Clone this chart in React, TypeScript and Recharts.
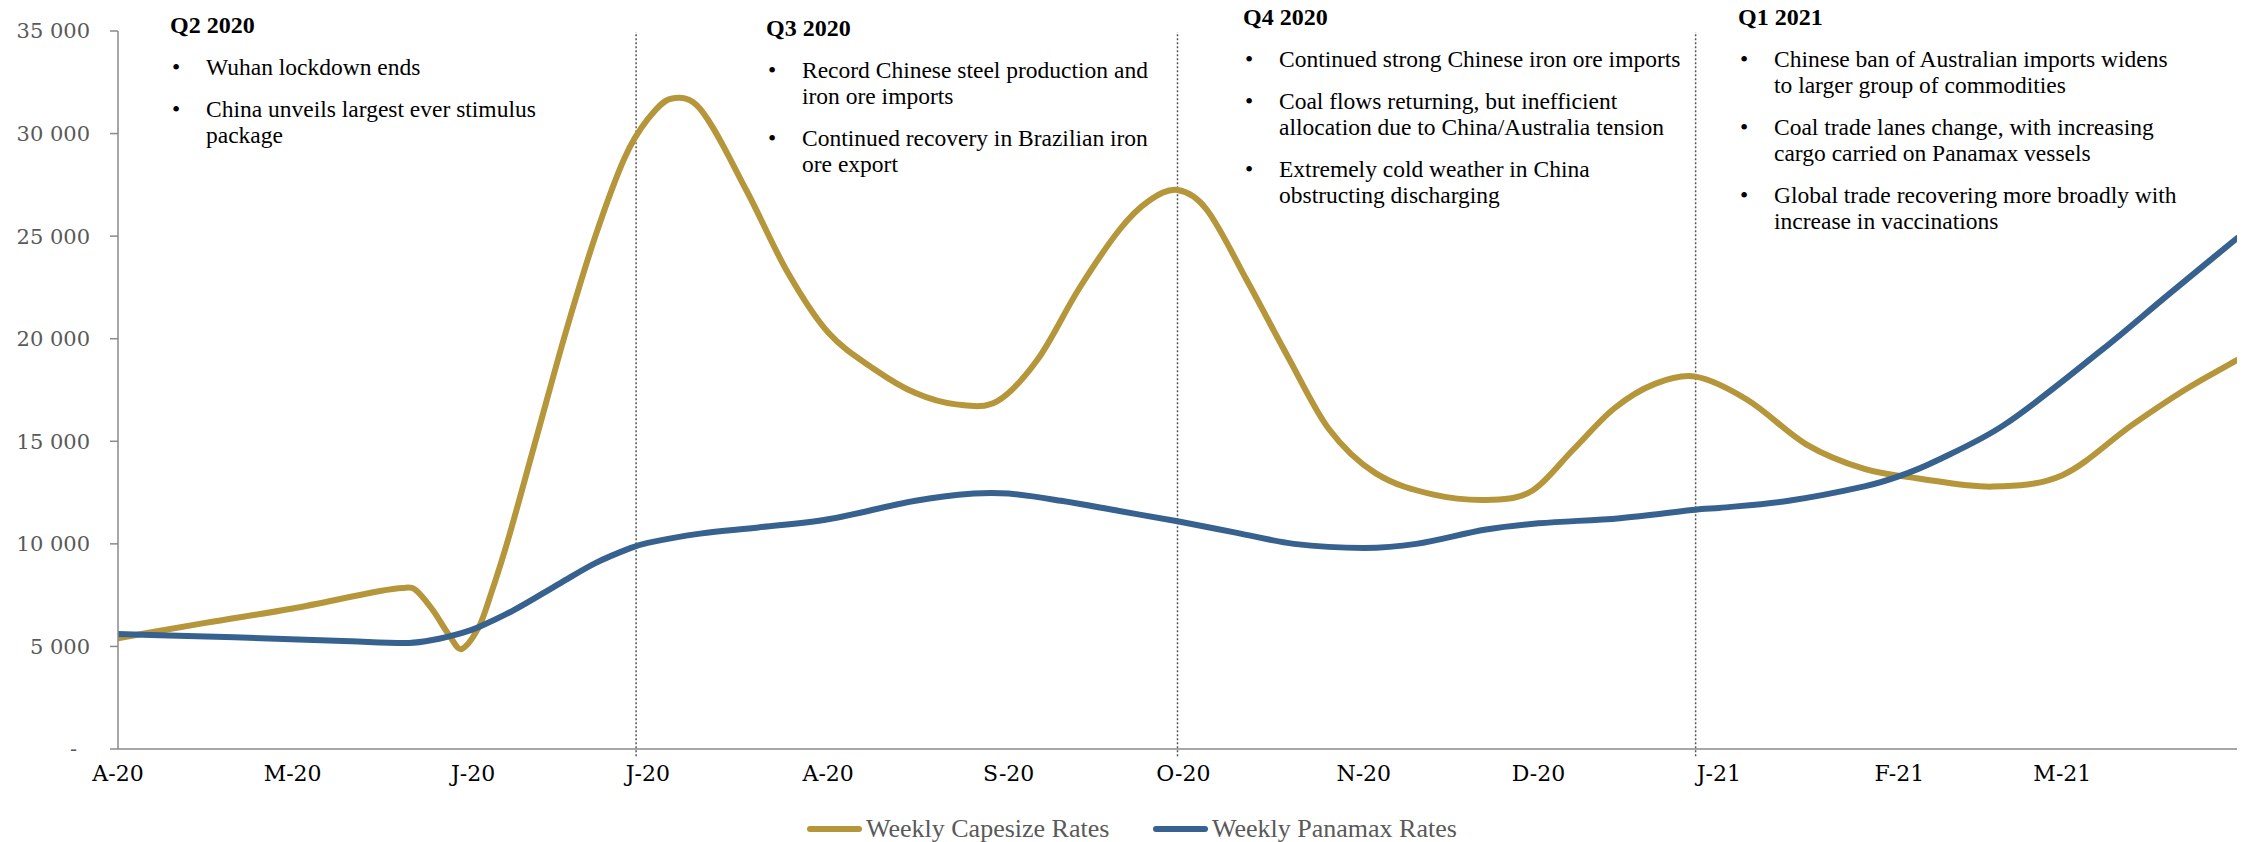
import React from 'react';
import { LineChart, Line, XAxis, YAxis, ReferenceLine } from 'recharts';

// Weekly time charter rates, USD/day
const capeDates = [
  '2020-04-01', '2020-04-16', '2020-05-01', '2020-05-16', '2020-05-20', '2020-05-22', '2020-05-25',
  '2020-05-28', '2020-05-30', '2020-06-02', '2020-06-04', '2020-06-07', '2020-06-12', '2020-06-17',
  '2020-06-22', '2020-06-27', '2020-07-01', '2020-07-05', '2020-07-10', '2020-07-18', '2020-07-25',
  '2020-08-01', '2020-08-09', '2020-08-16', '2020-08-23', '2020-08-30', '2020-09-06', '2020-09-13',
  '2020-09-20', '2020-09-25', '2020-09-30', '2020-10-05', '2020-10-12', '2020-10-19', '2020-10-26',
  '2020-11-03', '2020-11-13', '2020-11-23', '2020-11-30', '2020-12-07', '2020-12-14', '2020-12-21',
  '2020-12-28', '2021-01-06', '2021-01-16', '2021-01-26', '2021-02-04', '2021-02-17', '2021-03-01',
  '2021-03-13', '2021-03-22', '2021-03-31',
];
const capeRates = [
  5400, 6150, 6850, 7700, 7850, 7780, 6800,
  5500, 4870, 5950, 7500, 10200, 15300, 20400,
  25000, 28800, 30700, 31700, 31200, 27200, 23250,
  20300, 18500, 17350, 16800, 16950, 19000, 22400,
  25300, 26700, 27250, 26300, 22800, 19100, 15600,
  13450, 12400, 12150, 12600, 14600, 16600, 17800,
  18150, 17000, 14850, 13650, 13200, 12790, 13350,
  15800, 17500, 18960,
];

const panaDates = [
  '2020-04-01', '2020-04-21', '2020-05-11', '2020-05-21', '2020-05-25', '2020-05-30', '2020-06-02',
  '2020-06-08', '2020-06-16', '2020-06-22', '2020-06-28', '2020-07-01', '2020-07-10', '2020-07-20',
  '2020-08-01', '2020-08-16', '2020-08-26', '2020-09-01', '2020-09-10', '2020-09-20', '2020-09-30',
  '2020-10-10', '2020-10-20', '2020-11-01', '2020-11-10', '2020-11-22', '2020-12-01', '2020-12-15',
  '2020-12-29', '2021-01-01', '2021-01-13', '2021-01-26', '2021-02-01', '2021-02-07', '2021-02-19',
  '2021-03-08', '2021-03-19', '2021-03-31',
];
const panaRates = [
  5600, 5450, 5250, 5170, 5310, 5650, 5950,
  6770, 8090, 9060, 9790, 10050, 10500, 10800,
  11200, 12100, 12450, 12450, 12100, 11600, 11100,
  10550, 10000, 9800, 10000, 10700, 11000, 11250,
  11700, 11750, 12100, 12800, 13300, 14000, 15800,
  19500, 22100, 24900,
];

const seriesNames = ['Weekly Capesize Rates', 'Weekly Panamax Rates'];

const monthTicks = [
  '2020-04-01', '2020-05-01', '2020-06-01', '2020-07-01', '2020-08-01', '2020-09-01',
  '2020-10-01', '2020-11-01', '2020-12-01', '2021-01-01', '2021-02-01', '2021-03-01',
];
const monthLabels = ['A-20', 'M-20', 'J-20', 'J-20', 'A-20', 'S-20', 'O-20', 'N-20', 'D-20', 'J-21', 'F-21', 'M-21'];

const quarterBreaks = ['2020-06-29', '2020-09-30', '2020-12-28'];
const rateTicks = [0, 5000, 10000, 15000, 20000, 25000, 30000, 35000];

const notes = [
  {
    title: 'Q2 2020',
    bullets: [['Wuhan lockdown ends'], ['China unveils largest ever stimulus', 'package']],
  },
  {
    title: 'Q3 2020',
    bullets: [
      ['Record Chinese steel production and', 'iron ore imports'],
      ['Continued recovery in Brazilian iron', 'ore export'],
    ],
  },
  {
    title: 'Q4 2020',
    bullets: [
      ['Continued strong Chinese iron ore imports'],
      ['Coal flows returning, but inefficient', 'allocation due to China/Australia tension'],
      ['Extremely cold weather in China', 'obstructing discharging'],
    ],
  },
  {
    title: 'Q1 2021',
    bullets: [
      ['Chinese ban of Australian imports widens', 'to larger group of commodities'],
      ['Coal trade lanes change, with increasing', 'cargo carried on Panamax vessels'],
      ['Global trade recovering more broadly with', 'increase in vaccinations'],
    ],
  },
];

const W = 2242;
const H = 842;
const GOLD = '#B6963A';
const BLUE = '#37628F';
const AXIS = '#8a8a8a';
const notePos = [
  { left: 170, top: 12 },
  { left: 766, top: 15 },
  { left: 1243, top: 4 },
  { left: 1738, top: 4 },
];

const toTime = (d: string) => Date.parse(d + 'T00:00:00Z');

const capeData = capeDates.map((d, i) => ({ t: toTime(d), rate: capeRates[i] }));
const panaData = panaDates.map((d, i) => ({ t: toTime(d), rate: panaRates[i] }));
const tickTimes = monthTicks.map(toTime);
const domainX = [toTime('2020-04-01'), toTime('2021-03-31')];

// Smoothed line: cubic Hermite through every point, slopes from the neighbours
// (no monotone clamping, so peaks come out round like a spreadsheet "smoothed line")
const smoothCurve = (context: any) => {
  let xs: number[] = [];
  let ys: number[] = [];
  return {
    areaStart() {},
    areaEnd() {},
    lineStart() {
      xs = [];
      ys = [];
    },
    point(x: number, y: number) {
      xs.push(+x);
      ys.push(+y);
    },
    lineEnd() {
      const n = xs.length;
      if (!n) return;
      context.moveTo(xs[0], ys[0]);
      if (n === 1) return;
      const m = xs.map((_, i) => {
        const a = Math.max(i - 1, 0);
        const b = Math.min(i + 1, n - 1);
        return (ys[b] - ys[a]) / (xs[b] - xs[a]);
      });
      for (let i = 0; i < n - 1; i++) {
        const dx = (xs[i + 1] - xs[i]) / 3;
        context.bezierCurveTo(
          xs[i] + dx, ys[i] + m[i] * dx,
          xs[i + 1] - dx, ys[i + 1] - m[i + 1] * dx,
          xs[i + 1], ys[i + 1],
        );
      }
    },
  };
};

const fmtRate = (v: number) =>
  v === 0 ? '-' : `${Math.floor(v / 1000)} ${String(v % 1000).padStart(3, '0')}`;

const RateTick = (props: any) => {
  const { x, y, payload } = props;
  const zero = payload.value === 0;
  return (
    <text
      x={zero ? x - 13 : x}
      y={y}
      dy="0.355em"
      textAnchor="end"
      fill="#595959"
      fontSize={21}
      fontFamily="DejaVu Serif"
    >
      {fmtRate(payload.value)}
    </text>
  );
};

const serif = '"Liberation Serif", "Times New Roman", serif';

const App: React.FC = () => {
  return (
    <div style={{ position: 'absolute', left: 0, top: 0, width: W, height: H, background: '#fff', overflow: 'hidden' }}>
      <LineChart width={W} height={H} margin={{ top: 31, right: 5, left: 0, bottom: 0 }}>
        <XAxis
          dataKey="t"
          type="number"
          domain={domainX}
          ticks={tickTimes}
          allowDataOverflow
          tickFormatter={(v: number) => monthLabels[tickTimes.indexOf(v)] ?? ''}
          height={93}
          axisLine={{ stroke: AXIS, strokeWidth: 1.5 }}
          tickLine={false}
          tickSize={6}
          tickMargin={10}
          tick={{ fill: '#000', fontSize: 22, fontFamily: 'DejaVu Serif' }}
        />
        <YAxis
          type="number"
          domain={[0, 35000]}
          ticks={rateTicks}
          width={118}
          axisLine={{ stroke: AXIS, strokeWidth: 1.5 }}
          tickLine={{ stroke: AXIS, strokeWidth: 1.5 }}
          tickSize={8}
          tickMargin={20}
          tick={<RateTick />}
        />
        {quarterBreaks.map((d) => (
          <ReferenceLine
            key={d}
            segment={[{ x: toTime(d), y: -350 }, { x: toTime(d), y: 34950 }]}
            ifOverflow="visible"
            stroke="#555"
            strokeWidth={1.5}
            strokeDasharray="2 2"
          />
        ))}
        <Line
          data={capeData}
          dataKey="rate"
          name={seriesNames[0]}
          type={smoothCurve as any}
          stroke={GOLD}
          strokeWidth={6}
          strokeLinecap="round"
          strokeLinejoin="round"
          dot={false}
          isAnimationActive={false}
        />
        <Line
          data={panaData}
          dataKey="rate"
          name={seriesNames[1]}
          type={smoothCurve as any}
          stroke={BLUE}
          strokeWidth={6}
          strokeLinecap="round"
          strokeLinejoin="round"
          dot={false}
          isAnimationActive={false}
        />
      </LineChart>

      {notes.map((n, i) => (
        <div
          key={n.title}
          style={{
            position: 'absolute',
            left: notePos[i].left,
            top: notePos[i].top,
            fontFamily: serif,
            color: '#000',
            whiteSpace: 'nowrap',
          }}
        >
          <div style={{ fontWeight: 'bold', fontSize: 24, lineHeight: '26px' }}>{n.title}</div>
          {n.bullets.map((lines, j) => (
            <div key={j} style={{ position: 'relative', marginTop: 16, paddingLeft: 36, fontSize: 23.5, lineHeight: '26px' }}>
              <span style={{ position: 'absolute', left: 2 }}>•</span>
              {lines.map((l) => (
                <div key={l}>{l}</div>
              ))}
            </div>
          ))}
        </div>
      ))}

      {/* legend */}
      {[GOLD, BLUE].map((c, i) => (
        <div
          key={c}
          style={{
            position: 'absolute',
            left: i === 0 ? 807 : 1153,
            top: 814,
            height: 30,
            display: 'flex',
            alignItems: 'center',
            fontFamily: serif,
            fontSize: 26,
            color: '#595959',
            whiteSpace: 'nowrap',
          }}
        >
          <span style={{ display: 'inline-block', width: 55, height: 6, borderRadius: 3, background: c, marginRight: 4 }} />
          {seriesNames[i]}
        </div>
      ))}
    </div>
  );
};

export default App;
